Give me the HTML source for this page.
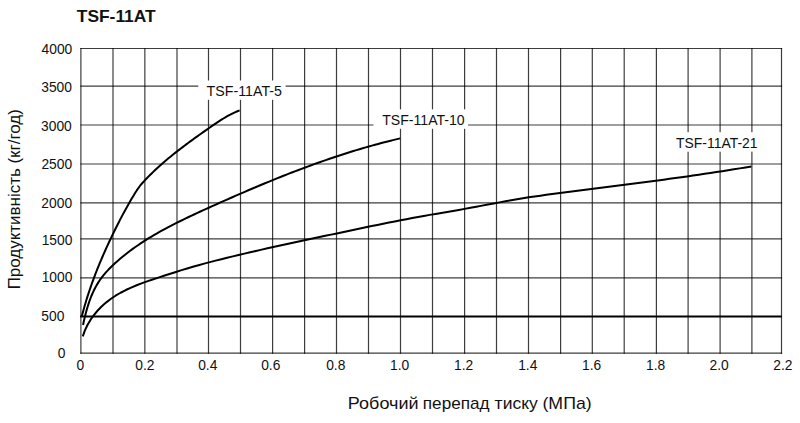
<!DOCTYPE html>
<html><head><meta charset="utf-8"><style>
html,body{margin:0;padding:0;background:#fff;}
body{width:800px;height:423px;overflow:hidden;}
svg{display:block;}
text{font-family:"Liberation Sans",Arial,sans-serif;fill:#111;}
</style></head><body>
<svg width="800" height="423" viewBox="0 0 800 423">
<rect width="800" height="423" fill="#fff"/>
<g stroke="#000" stroke-opacity="0.76" stroke-width="1.2" fill="none">
<line x1="80.3" y1="48.50" x2="782.1" y2="48.50"/>
<line x1="80.3" y1="86.20" x2="782.1" y2="86.20"/>
<line x1="80.3" y1="125.00" x2="782.1" y2="125.00"/>
<line x1="80.3" y1="164.00" x2="782.1" y2="164.00"/>
<line x1="80.3" y1="202.80" x2="782.1" y2="202.80"/>
<line x1="80.3" y1="238.80" x2="782.1" y2="238.80"/>
<line x1="80.3" y1="277.80" x2="782.1" y2="277.80"/>
<line x1="80.3" y1="353.20" x2="782.1" y2="353.20"/>
<line x1="80.90" y1="47.9" x2="80.90" y2="353.8"/>
<line x1="113.00" y1="47.9" x2="113.00" y2="353.8"/>
<line x1="144.85" y1="47.9" x2="144.85" y2="353.8"/>
<line x1="177.00" y1="47.9" x2="177.00" y2="353.8"/>
<line x1="208.50" y1="47.9" x2="208.50" y2="353.8"/>
<line x1="240.50" y1="47.9" x2="240.50" y2="353.8"/>
<line x1="272.60" y1="47.9" x2="272.60" y2="353.8"/>
<line x1="304.60" y1="47.9" x2="304.60" y2="353.8"/>
<line x1="336.50" y1="47.9" x2="336.50" y2="353.8"/>
<line x1="368.50" y1="47.9" x2="368.50" y2="353.8"/>
<line x1="400.50" y1="47.9" x2="400.50" y2="353.8"/>
<line x1="432.50" y1="47.9" x2="432.50" y2="353.8"/>
<line x1="464.60" y1="47.9" x2="464.60" y2="353.8"/>
<line x1="496.50" y1="47.9" x2="496.50" y2="353.8"/>
<line x1="528.50" y1="47.9" x2="528.50" y2="353.8"/>
<line x1="560.60" y1="47.9" x2="560.60" y2="353.8"/>
<line x1="592.30" y1="47.9" x2="592.30" y2="353.8"/>
<line x1="624.20" y1="47.9" x2="624.20" y2="353.8"/>
<line x1="656.40" y1="47.9" x2="656.40" y2="353.8"/>
<line x1="688.10" y1="47.9" x2="688.10" y2="353.8"/>
<line x1="720.10" y1="47.9" x2="720.10" y2="353.8"/>
<line x1="751.90" y1="47.9" x2="751.90" y2="353.8"/>
<line x1="781.50" y1="47.9" x2="781.50" y2="353.8"/>
</g>
<line x1="80" y1="316.6" x2="781.8" y2="316.6" stroke="#000" stroke-width="2.0"/>
<g fill="#fff">
<rect x="198.3" y="80.5" width="87.3" height="19.3"/>
<rect x="373.5" y="109.3" width="94.5" height="19.5"/>
<rect x="668" y="132.2" width="100" height="19.5"/>
</g>
<g stroke="#000" stroke-width="2.0" fill="none" stroke-linecap="butt" stroke-linejoin="round">
<path d="M81.77 316.58 L82.34 314.37 L82.92 312.17 L83.51 309.97 L84.12 307.78 L84.74 305.59 L85.38 303.41 L86.03 301.24 L86.70 299.07 L87.37 296.91 L88.06 294.75 L88.76 292.60 L89.48 290.45 L90.21 288.31 L90.95 286.17 L91.70 284.04 L92.46 281.91 L93.24 279.79 L94.03 277.67 L94.83 275.56 L95.63 273.45 L96.46 271.34 L97.29 269.24 L98.13 267.15 L98.98 265.06 L99.84 262.97 L100.71 260.88 L101.60 258.80 L102.49 256.73 L103.39 254.65 L104.30 252.59 L105.22 250.52 L106.15 248.46 L107.09 246.40 L108.03 244.34 L108.99 242.29 L109.95 240.24 L110.92 238.20 L111.89 236.16 L112.88 234.12 L113.87 232.08 L114.87 230.04 L115.88 228.01 L116.89 225.98 L117.92 223.96 L118.95 221.94 L119.98 219.92 L121.03 217.91 L122.09 215.90 L123.15 213.89 L124.23 211.90 L125.31 209.91 L126.40 207.92 L127.51 205.94 L128.62 203.97 L129.75 202.01 L130.89 200.06 L132.04 198.11 L133.20 196.17 L134.38 194.25 L135.56 192.33 L136.78 190.43 L138.04 188.56 L139.36 186.74 L140.74 184.97 L142.20 183.24 L143.72 181.56 L145.26 179.91 L146.82 178.27 L148.40 176.65 L150.00 175.05 L151.61 173.46 L153.23 171.88 L154.87 170.33 L156.52 168.78 L158.18 167.25 L159.86 165.74 L161.55 164.23 L163.26 162.74 L164.97 161.27 L166.70 159.80 L168.43 158.35 L170.18 156.90 L171.93 155.47 L173.70 154.05 L175.47 152.64 L177.25 151.24 L179.04 149.85 L180.84 148.47 L182.65 147.09 L184.46 145.73 L186.27 144.37 L188.10 143.02 L189.92 141.67 L191.76 140.33 L193.59 139.00 L195.43 137.68 L197.28 136.36 L199.13 135.04 L200.98 133.73 L202.83 132.42 L204.68 131.12 L206.53 129.82 L208.39 128.52 L210.24 127.23 L212.10 125.94 L213.96 124.66 L215.83 123.39 L217.71 122.14 L219.60 120.91 L221.50 119.69 L223.42 118.51 L225.36 117.36 L227.31 116.24 L229.29 115.15 L231.30 114.11 L233.33 113.11 L235.40 112.15 L237.50 111.25 L239.63 110.40"/>
<path d="M83.04 324.94 L83.73 321.78 L84.45 318.61 L85.22 315.43 L86.04 312.27 L86.91 309.11 L87.85 305.97 L88.85 302.86 L89.93 299.78 L91.09 296.74 L92.34 293.75 L93.68 290.81 L95.13 287.93 L96.68 285.11 L98.34 282.37 L100.13 279.71 L102.02 277.13 L104.02 274.62 L106.12 272.18 L108.29 269.81 L110.54 267.50 L112.86 265.24 L115.22 263.04 L117.64 260.89 L120.08 258.79 L122.56 256.73 L125.07 254.71 L127.60 252.73 L130.16 250.79 L132.75 248.89 L135.36 247.03 L138.00 245.20 L140.67 243.41 L143.35 241.65 L146.06 239.92 L148.79 238.22 L151.53 236.55 L154.30 234.91 L157.09 233.30 L159.89 231.72 L162.71 230.16 L165.54 228.62 L168.39 227.10 L171.25 225.61 L174.12 224.13 L177.01 222.67 L179.91 221.23 L182.81 219.81 L185.73 218.40 L188.65 217.01 L191.58 215.62 L194.52 214.25 L197.46 212.89 L200.41 211.53 L203.35 210.18 L206.30 208.84 L209.26 207.51 L212.21 206.17 L215.16 204.84 L218.12 203.52 L221.08 202.20 L224.03 200.88 L226.99 199.57 L229.95 198.26 L232.91 196.96 L235.87 195.67 L238.83 194.38 L241.80 193.09 L244.77 191.81 L247.73 190.54 L250.70 189.27 L253.68 188.01 L256.65 186.75 L259.63 185.50 L262.60 184.26 L265.58 183.03 L268.57 181.80 L271.55 180.58 L274.54 179.37 L277.53 178.16 L280.52 176.97 L283.52 175.78 L286.51 174.60 L289.51 173.43 L292.52 172.26 L295.53 171.11 L298.54 169.96 L301.55 168.82 L304.57 167.70 L307.59 166.58 L310.61 165.47 L313.64 164.37 L316.67 163.29 L319.70 162.21 L322.74 161.14 L325.78 160.08 L328.83 159.04 L331.88 158.00 L334.93 156.98 L337.99 155.97 L341.06 154.97 L344.12 153.98 L347.19 153.00 L350.27 152.03 L353.35 151.08 L356.44 150.14 L359.53 149.21 L362.63 148.29 L365.73 147.39 L368.83 146.50 L371.94 145.63 L375.06 144.76 L378.18 143.92 L381.31 143.08 L384.44 142.26 L387.58 141.45 L390.72 140.66 L393.87 139.88 L397.03 139.12 L400.19 138.37"/>
<path d="M82.79 336.41 L84.81 330.70 L87.33 325.28 L90.30 320.14 L93.70 315.30 L97.47 310.76 L101.58 306.53 L105.99 302.61 L110.65 299.00 L115.53 295.72 L120.59 292.74 L125.80 290.03 L131.15 287.56 L136.62 285.28 L142.16 283.16 L147.76 281.16 L153.40 279.25 L159.05 277.39 L164.69 275.55 L170.32 273.72 L175.93 271.93 L181.56 270.16 L187.19 268.45 L192.84 266.78 L198.50 265.18 L204.19 263.62 L209.90 262.10 L215.62 260.62 L221.36 259.17 L227.11 257.75 L232.86 256.35 L238.63 254.97 L244.39 253.62 L250.16 252.27 L255.93 250.95 L261.70 249.64 L267.47 248.34 L273.25 247.05 L279.02 245.77 L284.80 244.51 L290.58 243.25 L296.36 242.00 L302.14 240.76 L307.93 239.53 L313.71 238.30 L319.49 237.07 L325.28 235.84 L331.07 234.62 L336.85 233.40 L342.64 232.18 L348.43 230.96 L354.22 229.73 L360.01 228.52 L365.80 227.31 L371.59 226.10 L377.39 224.91 L383.19 223.73 L388.99 222.56 L394.79 221.40 L400.60 220.26 L406.41 219.15 L412.22 218.05 L418.04 216.97 L423.86 215.92 L429.69 214.89 L435.51 213.89 L441.35 212.89 L447.18 211.90 L453.01 210.90 L458.84 209.89 L464.66 208.86 L470.49 207.80 L476.31 206.72 L482.12 205.64 L487.94 204.54 L493.76 203.45 L499.57 202.37 L505.40 201.30 L511.22 200.26 L517.05 199.25 L522.89 198.28 L528.73 197.36 L534.58 196.48 L540.43 195.64 L546.29 194.83 L552.16 194.05 L558.02 193.28 L563.89 192.52 L569.76 191.76 L575.63 191.01 L581.50 190.26 L587.36 189.52 L593.23 188.77 L599.10 188.03 L604.97 187.28 L610.84 186.53 L616.71 185.78 L622.58 185.03 L628.45 184.28 L634.32 183.52 L640.18 182.76 L646.05 181.99 L651.91 181.22 L657.78 180.44 L663.64 179.65 L669.50 178.85 L675.37 178.04 L681.23 177.23 L687.08 176.40 L692.94 175.56 L698.80 174.71 L704.65 173.85 L710.50 172.98 L716.35 172.09 L722.20 171.18 L728.05 170.26 L733.89 169.33 L739.73 168.37 L745.57 167.40 L751.41 166.41"/>
</g>
<text x="76.75" y="21.58" font-size="17.00" font-weight="bold" textLength="78.93" lengthAdjust="spacingAndGlyphs">TSF-11AT</text>
<text x="41.59" y="53.84" font-size="13.80">4000</text>
<text x="41.27" y="92.35" font-size="13.80">3500</text>
<text x="41.06" y="130.54" font-size="13.80">3000</text>
<text x="41.39" y="169.40" font-size="13.80">2500</text>
<text x="41.37" y="208.24" font-size="13.80">2000</text>
<text x="41.63" y="244.65" font-size="13.80">1500</text>
<text x="41.63" y="282.44" font-size="13.80">1000</text>
<text x="41.31" y="320.95" font-size="13.80">500</text>
<text x="57.64" y="358.19" font-size="13.80">0</text>
<text x="76.61" y="369.84" font-size="13.80">0</text>
<text x="135.33" y="369.84" font-size="13.80">0.2</text>
<text x="198.14" y="369.82" font-size="13.80">0.4</text>
<text x="261.13" y="369.82" font-size="13.80">0.6</text>
<text x="326.14" y="369.84" font-size="13.80">0.8</text>
<text x="390.09" y="369.84" font-size="13.80">1.0</text>
<text x="454.09" y="369.83" font-size="13.80">1.2</text>
<text x="518.13" y="369.73" font-size="13.80">1.4</text>
<text x="582.05" y="369.83" font-size="13.80">1.6</text>
<text x="646.10" y="369.84" font-size="13.80">1.8</text>
<text x="709.47" y="369.84" font-size="13.80">2.0</text>
<text x="773.33" y="369.83" font-size="13.80">2.2</text>
<text x="206.58" y="96.18" font-size="14.20" textLength="75.38" lengthAdjust="spacingAndGlyphs">TSF-11AT-5</text>
<text x="382.21" y="125.38" font-size="14.20" textLength="82.48" lengthAdjust="spacingAndGlyphs">TSF-11AT-10</text>
<text x="676.03" y="147.78" font-size="14.20" textLength="81.56" lengthAdjust="spacingAndGlyphs">TSF-11AT-21</text>
<text x="347.85" y="408.64" font-size="17.00" textLength="70.72" lengthAdjust="spacingAndGlyphs">Робочий</text>
<text x="422.85" y="408.64" font-size="17.00" textLength="66.69" lengthAdjust="spacingAndGlyphs">перепад</text>
<text x="494.64" y="408.64" font-size="17.00" textLength="43.21" lengthAdjust="spacingAndGlyphs">тиску</text>
<text x="542.46" y="408.64" font-size="17.00" textLength="49.21" lengthAdjust="spacingAndGlyphs">(МПа)</text>
<text transform="translate(19.84,289.33) rotate(-90)" x="0" y="0" font-size="17.00" textLength="180.14" lengthAdjust="spacingAndGlyphs">Продуктивність (кг/год)</text>
</svg>
</body></html>
